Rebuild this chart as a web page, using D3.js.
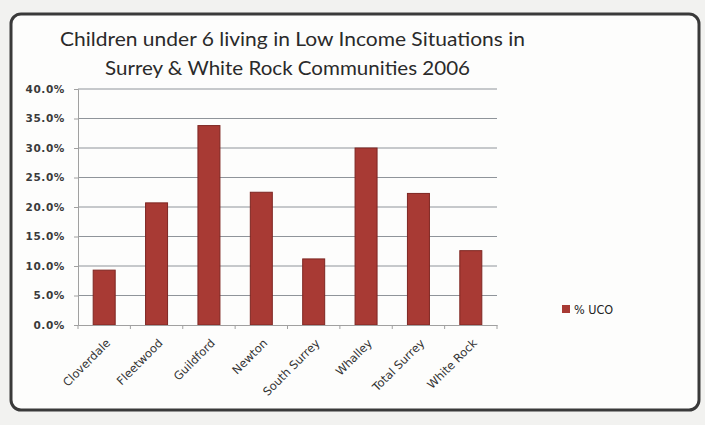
<!DOCTYPE html>
<html><head><meta charset="utf-8">
<script src="https://cdn.jsdelivr.net/npm/d3@7"></script>
<style>body{margin:0;background:#f3f3f1;}svg{display:block;}</style>
</head><body>
<svg id="c" width="705" height="425"></svg>
<script>
const categories = ["Cloverdale","Fleetwood","Guildford","Newton","South Surrey","Whalley","Total Surrey","White Rock"];
const values = [9.3, 20.7, 33.8, 22.5, 11.2, 30.0, 22.3, 12.6];
const yTicks = [0,5,10,15,20,25,30,35,40];
const seriesName = "% UCO";
const titleLines = ["Children under 6 living in Low Income Situations in","Surrey & White Rock Communities 2006"];

const svg = d3.select("#c");
svg.append("rect").attr("x",0).attr("y",0).attr("width",705).attr("height",425).attr("fill","#f2f2f0");
svg.append("rect").attr("x",11).attr("y",14).attr("width",688).attr("height",396).attr("rx",10)
  .attr("fill","#fdfdfc").attr("stroke","#3a3a3a").attr("stroke-width",3);

const L=78, R=497, T=89, B=325;
const x = d3.scaleBand().domain(categories).range([L,R]).paddingInner(0.58).paddingOuter(0.29);
const y = d3.scaleLinear().domain([0,40]).range([B,T]);

// gridlines
svg.append("g").selectAll("line").data(yTicks.slice(1)).join("line")
  .attr("x1",L).attr("x2",R).attr("y1",d=>y(d)).attr("y2",d=>y(d))
  .attr("stroke","#8f949a").attr("stroke-width",1);

// y axis
const ya = svg.append("g").attr("transform",`translate(${L},0)`)
  .call(d3.axisLeft(y).tickValues(yTicks).tickFormat(d=>d.toFixed(1)+"%").tickSize(4).tickPadding(9));
ya.select(".domain").attr("stroke","#a0a0a0");
ya.selectAll(".tick line").attr("stroke","#a0a0a0");
ya.selectAll("text").attr("font-family","DejaVu Sans").attr("font-size",10.5)
  .attr("font-weight","bold").attr("letter-spacing",0.6).attr("fill","#3a3a3a");

// bars
svg.append("g").selectAll("rect").data(values).join("rect")
  .attr("x",(d,i)=>x(categories[i])).attr("width",x.bandwidth())
  .attr("y",d=>y(d)).attr("height",d=>B-y(d))
  .attr("fill","#a83a34").attr("stroke","#7e2622").attr("stroke-width",1);

// x axis
const xa = svg.append("g").attr("transform",`translate(0,${B})`)
  .call(d3.axisBottom(x).tickSize(0).tickPadding(8));
xa.select(".domain").attr("stroke","#a0a0a0");
svg.append("g").selectAll("line").data(d3.range(categories.length+1)).join("line")
  .attr("x1",d=>L+d*(R-L)/categories.length).attr("x2",d=>L+d*(R-L)/categories.length)
  .attr("y1",B).attr("y2",B+4).attr("stroke","#a0a0a0");
xa.selectAll("text").attr("font-family","DejaVu Sans").attr("font-size",11.5)
  .attr("fill","#333").attr("text-anchor","end").attr("y",0)
  .attr("transform","translate(4,16) rotate(-45)").attr("dy","0.35em").attr("dx","0");

// title
const tw = [465, 365];
svg.append("g").selectAll("text").data(titleLines).join("text")
  .attr("x",(d,i)=> i===0?60:105).attr("y",(d,i)=>i===0?46:75)
  .attr("textLength",(d,i)=>tw[i]).attr("lengthAdjust","spacingAndGlyphs")
  .attr("font-family","Lato, sans-serif").attr("font-size",20)
  .attr("fill","#2a2a2a").text(d=>d);

// legend
const lg = svg.append("g").attr("transform","translate(562,309)");
lg.append("rect").attr("x",0).attr("y",-4).attr("width",8).attr("height",8).attr("fill","#a83a34");
lg.append("text").attr("x",12).attr("y",0).attr("dy","0.38em").attr("font-family","DejaVu Sans Condensed, DejaVu Sans")
  .attr("font-size",12.5).attr("fill","#222").text(seriesName);
</script>
</body></html>
